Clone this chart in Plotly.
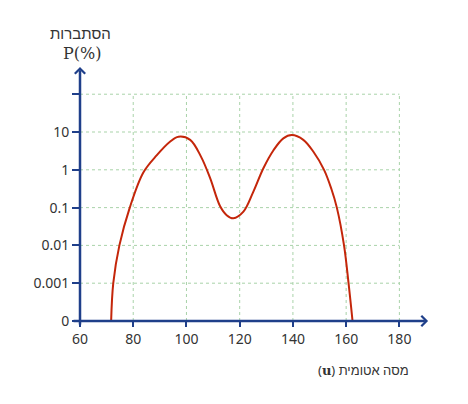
import plotly.graph_objects as go

# Data: atomic mass (u) vs fission yield probability P(%)
mass = [71.7, 72.5, 74.8, 78.7, 83.8, 88.8, 93.8, 97.0, 101.4, 105.5, 108.9,
        112.6, 115.1, 117.6, 121.4, 125.1, 128.9, 132.7, 136.4, 139.6, 143.9,
        147.7, 151.7, 154.4, 156.5, 159.2, 160.9, 162.4]
yield_pct = [1e-4, 0.001, 0.01, 0.1, 0.85, 2.4, 5.5, 7.5, 6.2, 2.2, 0.6,
             0.11, 0.063, 0.052, 0.078, 0.26, 1.1, 3.3, 6.8, 8.3, 6.2,
             3.0, 1.0, 0.32, 0.1, 0.01, 0.001, 1e-4]

x_ticks = [60, 80, 100, 120, 140, 160, 180]
y_ticks = [1e-4, 0.001, 0.01, 0.1, 1, 10, 100]
y_tick_labels = ["0", "0.001", "0.01", "0.1", "1", "10", ""]

AXIS = "#1f3f8a"
GRID = "#a9d3a9"
CURVE = "#c4260a"
TXT = "#333333"
FONT = "Noto Sans, Liberation Sans, DejaVu Sans, sans-serif"

fig = go.Figure()

# grid lines
for xv in x_ticks[1:]:
    fig.add_trace(go.Scatter(x=[xv, xv], y=[y_ticks[0], y_ticks[-1]], mode="lines",
                             line=dict(color=GRID, width=1, dash="3px,3px"),
                             hoverinfo="skip", showlegend=False))
for yv in y_ticks[1:]:
    fig.add_trace(go.Scatter(x=[x_ticks[0], x_ticks[-1]], y=[yv, yv], mode="lines",
                             line=dict(color=GRID, width=1, dash="3px,3px"),
                             hoverinfo="skip", showlegend=False))

fig.add_trace(go.Scatter(x=mass, y=yield_pct, mode="lines",
                         line=dict(color=CURVE, width=2, shape="spline", smoothing=1.0),
                         showlegend=False))

fig.update_xaxes(range=[60, 190], tickvals=x_ticks, ticks="outside", ticklen=5,
                 tickwidth=2, tickcolor=AXIS, showgrid=False, zeroline=False,
                 showline=False, tickfont=dict(family=FONT, size=14, color=TXT))
fig.update_yaxes(type="log", range=[-4, 2.72], tickvals=y_ticks, ticktext=y_tick_labels,
                 ticks="outside", ticklen=7, tickwidth=2, tickcolor=AXIS,
                 showgrid=False, zeroline=False, showline=False,
                 tickfont=dict(family=FONT, size=14, color=TXT))

annotations = [
    # x axis arrow
    dict(xref="paper", yref="paper", x=1.006, y=0, ax=-356, ay=0,
         showarrow=True, arrowhead=4, arrowsize=0.8, arrowwidth=2.5, arrowcolor=AXIS, text=""),
    # y axis arrow
    dict(xref="paper", yref="paper", x=0, y=1.0, ax=0, ay=259, showarrow=True,
         arrowhead=4, arrowsize=0.8, arrowwidth=2.5, arrowcolor=AXIS, text=""),
    dict(xref="paper", yref="paper", x=0.0, y=1.135, text="הסתברות", showarrow=False,
         font=dict(family=FONT, size=15, color=TXT), xanchor="center", yanchor="middle"),
    dict(xref="paper", yref="paper", x=0.005, y=1.055, text="P(%)", showarrow=False,
         font=dict(family="DejaVu Serif, Liberation Serif, serif", size=16, color=TXT),
         xanchor="center", yanchor="middle"),
    dict(xref="paper", yref="paper", x=0.957, y=-0.193,
         text="(<b><span style='font-family:DejaVu Serif, serif'>u</span></b>) מסה אטומית",
         showarrow=False, font=dict(family=FONT, size=13, color=TXT),
         xanchor="right", yanchor="middle"),
]

fig.update_layout(width=468, height=404, margin=dict(l=72, r=50, t=59, b=91),
                  paper_bgcolor="white", plot_bgcolor="white",
                  annotations=annotations, showlegend=False)

fig.write_html("out.html")
